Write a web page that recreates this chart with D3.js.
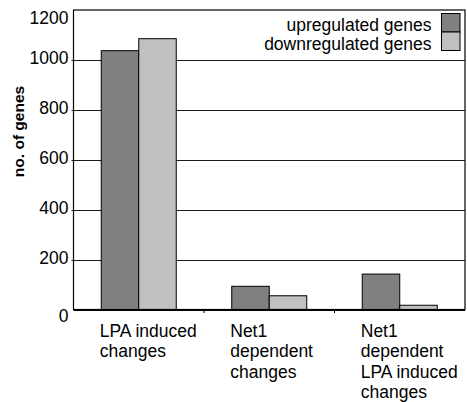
<!DOCTYPE html>
<html>
<head>
<meta charset="utf-8">
<script src="https://cdn.jsdelivr.net/npm/d3@7"></script>
<style>
  body { margin: 0; background: #fff; }
  svg text { font-family: "Liberation Sans", Arial, sans-serif; fill: #000; }
</style>
</head>
<body>
<div id="vis"></div>
<script>
// chart data
var categories = ['LPA induced changes', 'Net1 dependent changes', 'Net1 dependent LPA induced changes'];
var categoryLines = [
  ['LPA induced', 'changes'],
  ['Net1', 'dependent', 'changes'],
  ['Net1', 'dependent', 'LPA induced', 'changes']
];
var seriesNames = ['upregulated genes', 'downregulated genes'];
var upregulated = [1037, 93, 142];
var downregulated = [1085, 55, 17];
var yTicks = [0, 200, 400, 600, 800, 1000, 1200];

var width = 467;
var height = 402;
var margin = { top: 10, left: 73.5, bottom: 92.5, right: 2 };
var w = width - margin.left - margin.right;
var h = height - margin.top - margin.bottom;

var colors = { 'upregulated genes': '#808080', 'downregulated genes': '#c0c0c0' };

var svg = d3.select('#vis').append('svg')
  .attr('width', width)
  .attr('height', height);

var g = svg.append('g')
  .attr('transform', 'translate(' + margin.left + ',' + margin.top + ')');

var x = d3.scaleBand()
  .domain(categories)
  .range([0, w])
  .padding(0);

// bars inside each category take up about 57% of the band
var xInner = d3.scaleBand()
  .domain(seriesNames)
  .range([0, x.bandwidth()])
  .paddingInner(0)
  .paddingOuter(0.74);

var y = d3.scaleLinear()
  .domain([0, 1200])
  .range([h, 0]);

// gridlines
g.append('g')
  .attr('class', 'grid')
  .selectAll('line')
  .data(yTicks.filter(function (d) { return d > 0 && d < 1200; }))
  .enter().append('line')
  .attr('x1', -2)
  .attr('x2', w)
  .attr('y1', function (d) { return Math.round(y(d)) + 0.5; })
  .attr('y2', function (d) { return Math.round(y(d)) + 0.5; })
  .attr('stroke', '#1a1a1a')
  .attr('stroke-width', 1);

// white area behind the legend hides the top of the plot
g.append('rect')
  .attr('x', x(categories[1]) + 50)
  .attr('y', 1)
  .attr('width', w - x(categories[1]) - 51)
  .attr('height', 44)
  .attr('fill', '#fff');

// y axis labels
var yAxis = d3.axisLeft(y)
  .tickValues(yTicks)
  .tickSize(0)
  .tickPadding(5)
  .tickFormat(d3.format('d'));

var yAxisG = g.append('g')
  .attr('class', 'y axis')
  .call(yAxis);
yAxisG.select('.domain').remove();
yAxisG.selectAll('text')
  .style('font-size', '17.5px')
  .attr('dy', function (d) {
    if (d === 0) return '0.7em';
    if (d === 1200) return '0.78em';
    return '0.2em';
  });

// bars
var rows = categories.map(function (c, i) {
  return { cat: c, values: [
    { key: seriesNames[0], value: upregulated[i] },
    { key: seriesNames[1], value: downregulated[i] }
  ] };
});

var groups = g.selectAll('.bar-group')
  .data(rows)
  .enter().append('g')
  .attr('class', 'bar-group')
  .attr('transform', function (d) { return 'translate(' + x(d.cat) + ',0)'; });

groups.selectAll('rect')
  .data(function (d) { return d.values; })
  .enter().append('rect')
  .attr('x', function (d) { return xInner(d.key); })
  .attr('y', function (d) { return y(d.value); })
  .attr('width', xInner.bandwidth())
  .attr('height', function (d) { return h - y(d.value); })
  .attr('fill', function (d) { return colors[d.key]; })
  .attr('stroke', '#000')
  .attr('stroke-width', 1);

// plot frame
g.append('rect')
  .attr('x', 0)
  .attr('y', 0)
  .attr('width', w)
  .attr('height', h)
  .attr('fill', 'none')
  .attr('stroke', '#000')
  .attr('stroke-width', 1.2);

// x axis line (heavier) and ticks between categories
g.append('line')
  .attr('x1', 0)
  .attr('x2', w)
  .attr('y1', h + 0.5)
  .attr('y2', h + 0.5)
  .attr('stroke', '#000')
  .attr('stroke-width', 2);

g.selectAll('.x-tick')
  .data(categories.slice(1))
  .enter().append('line')
  .attr('class', 'x-tick')
  .attr('x1', function (d) { return x(d); })
  .attr('x2', function (d) { return x(d); })
  .attr('y1', h)
  .attr('y2', h + 3.5)
  .attr('stroke', '#000')
  .attr('stroke-width', 1);

// category labels
var catLabels = g.selectAll('.cat-label')
  .data(categories)
  .enter().append('text')
  .attr('class', 'cat-label')
  .attr('x', function (d) { return x(d) + x.bandwidth() / 2 - 39; })
  .attr('y', h + 27)
  .style('font-size', '17.5px');

catLabels.selectAll('tspan')
  .data(function (d, i) { return categoryLines[i]; })
  .enter().append('tspan')
  .attr('x', function () { return d3.select(this.parentNode).attr('x'); })
  .attr('dy', function (d, i) { return i === 0 ? 0 : 20.5; })
  .text(function (d) { return d; });

// y axis title
svg.append('text')
  .attr('transform', 'translate(24,131.5) rotate(-90)')
  .attr('text-anchor', 'middle')
  .style('font-size', '15.5px')
  .style('font-weight', 'bold')
  .text('no. of genes');

// legend
var legend = svg.append('g')
  .attr('class', 'legend')
  .attr('transform', 'translate(441.5,13.5)');

var legendItems = legend.selectAll('.legend-item')
  .data(seriesNames)
  .enter().append('g')
  .attr('class', 'legend-item')
  .attr('transform', function (d, i) { return 'translate(0,' + (i * 18.5) + ')'; });

legendItems.append('rect')
  .attr('width', 18.5)
  .attr('height', 18.5)
  .attr('fill', function (d) { return colors[d]; })
  .attr('stroke', '#000')
  .attr('stroke-width', 1);

legendItems.append('text')
  .attr('x', -10)
  .attr('y', 17.5)
  .attr('text-anchor', 'end')
  .style('font-size', '17.5px')
  .text(function (d) { return d; });
</script>
</body>
</html>
